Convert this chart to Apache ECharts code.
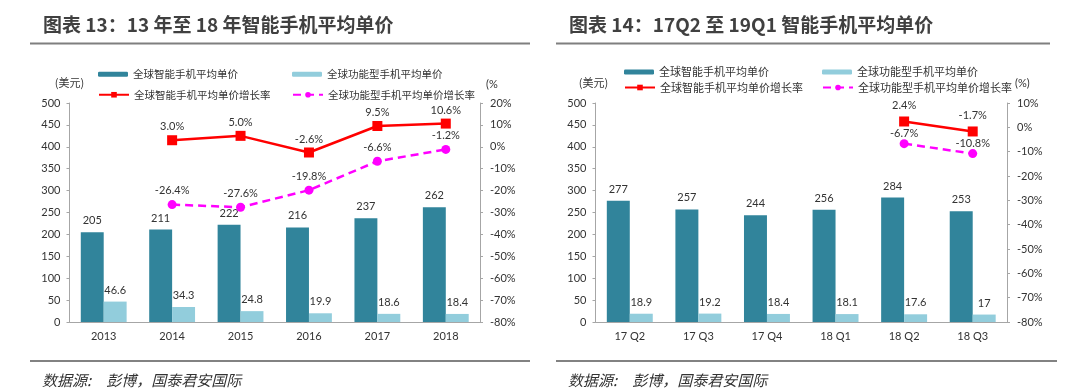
<!DOCTYPE html>
<html>
<head>
<meta charset="utf-8">
<script src="https://cdn.jsdelivr.net/npm/echarts@6/dist/echarts.min.js"></script>
<style>
html,body{margin:0;padding:0;background:#fff;}
#c{width:1081px;height:392px;}
</style>
</head>
<body>
<div id="c"></div>
<script>
// ---- data ----
const titleA = '图表 13：13 年至 18 年智能手机平均单价';
const titleB = '图表 14：17Q2 至 19Q1 智能手机平均单价';
const sourceText = '数据源:　彭博，国泰君安国际';
const seriesNames = ['全球智能手机平均单价', '全球功能型手机平均单价', '全球智能手机平均单价增长率', '全球功能型手机平均单价增长率'];

const yearCats = ['2013', '2014', '2015', '2016', '2017', '2018'];
const smartPriceA = [205, 211, 222, 216, 237, 262];
const featurePriceA = [46.6, 34.3, 24.8, 19.9, 18.6, 18.4];
const smartGrowthA = [null, 3.0, 5.0, -2.6, 9.5, 10.6];
const featureGrowthA = [null, -26.4, -27.6, -19.8, -6.6, -1.2];

const quarterCats = ['17 Q2', '17 Q3', '17 Q4', '18 Q1', '18 Q2', '18 Q3'];
const smartPriceB = [277, 257, 244, 256, 284, 253];
const featurePriceB = [18.9, 19.2, 18.4, 18.1, 17.6, 17];
const smartGrowthB = [null, null, null, null, 2.4, -1.7];
const featureGrowthB = [null, null, null, null, -6.7, -10.8];

// ---- styles ----
const FONT = "Lato, 'Noto Sans CJK SC', sans-serif";
const CJK = "'Noto Sans CJK SC', sans-serif";
const TXT = '#333333';
const AXIS = '#A6A6A6';
const DARK = '#31849B';
const LIGHT = '#92CDDC';
const RED = '#FF0000';
const MAG = '#FF00FF';

const chart = echarts.init(document.getElementById('c'), null, {renderer: 'canvas'});

function pct(p) { return (p.value === null || p.value === undefined) ? '' : Number(p.value).toFixed(1) + '%'; }

function valAxis(grid, pos, min, max, interval, isPct) {
  return {
    type: 'value', gridIndex: grid, position: pos, min: min, max: max, interval: interval,
    axisLine: {show: true, lineStyle: {color: AXIS, width: 1}},
    axisTick: {show: true, length: 3, inside: false, lineStyle: {color: AXIS}},
    splitLine: {show: false},
    axisLabel: {color: TXT, fontFamily: FONT, fontSize: 11, margin: pos === 'left' ? 9 : 10,
      formatter: isPct ? (v => v + '%') : (v => String(v))}
  };
}
function catAxis(grid, cats) {
  return {
    type: 'category', gridIndex: grid, data: cats, boundaryGap: true,
    axisLine: {show: true, lineStyle: {color: AXIS, width: 1}},
    axisTick: {show: false},
    axisLabel: {color: TXT, fontFamily: FONT, fontSize: 11, margin: 9}
  };
}
function barSeries(name, xi, yi, data, color) {
  return {
    name: name, type: 'bar', xAxisIndex: xi, yAxisIndex: yi, data: data,
    barGap: '0%', barCategoryGap: '33%',
    itemStyle: {color: color},
    label: {show: true, position: 'top', distance: 6, color: TXT, fontFamily: FONT, fontSize: 11},
    animation: false
  };
}
function lineSeries(name, xi, yi, data, color, dashed, symbol, size, dist) {
  return {
    name: name, type: 'line', xAxisIndex: xi, yAxisIndex: yi, data: data,
    symbol: symbol, symbolSize: size, showAllSymbol: true, connectNulls: false,
    lineStyle: {color: color, width: 2.5, type: dashed ? [8, 5] : 'solid'},
    itemStyle: {color: color},
    label: {show: true, position: 'top', distance: dist, color: TXT, fontFamily: FONT, fontSize: 11, formatter: pct},
    z: 5,
    animation: false
  };
}
function legendItem(name, left, top, isBar, fs) {
  return {
    data: [name], left: left, top: top, padding: 0, itemGap: 0,
    itemWidth: 30, itemHeight: isBar ? 5 : 7,
    selectedMode: false,
    textStyle: {color: TXT, fontFamily: CJK, fontSize: fs}
  };
}
function text(x, y, str, opts) {
  return {
    type: 'text', x: x, y: y, silent: true,
    style: Object.assign({text: str, fill: TXT, font: '11px ' + FONT, textVerticalAlign: 'middle', textAlign: 'left'}, opts || {})
  };
}
function hline(x1, x2, y, color, w) {
  return {type: 'line', silent: true, shape: {x1: x1, y1: y, x2: x2, y2: y}, style: {stroke: color, lineWidth: w}};
}

const option = {
  backgroundColor: '#ffffff',
  animation: false,
  grid: [
    {left: 69.5, top: 103, width: 410.5, height: 219, containLabel: false},
    {left: 595.5, top: 103, width: 411.5, height: 219, containLabel: false}
  ],
  xAxis: [catAxis(0, yearCats), catAxis(1, quarterCats)],
  yAxis: [
    valAxis(0, 'left', 0, 500, 50, false),
    valAxis(0, 'right', -80, 20, 10, true),
    valAxis(1, 'left', 0, 500, 50, false),
    valAxis(1, 'right', -80, 10, 10, true)
  ],
  legend: [
    legendItem(seriesNames[0], 98, 69, true, 10.5),
    legendItem(seriesNames[1], 292, 69, true, 10.5),
    legendItem(seriesNames[2], 98, 89.5, false, 10.5),
    legendItem(seriesNames[3], 292, 89.5, false, 10.5),
    legendItem(seriesNames[0], 624, 66.5, true, 11),
    legendItem(seriesNames[1], 822, 66.5, true, 11),
    legendItem(seriesNames[2], 624, 82, false, 11),
    legendItem(seriesNames[3], 822, 82, false, 11)
  ],
  series: [
    barSeries(seriesNames[0], 0, 0, smartPriceA, DARK),
    barSeries(seriesNames[1], 0, 0, featurePriceA, LIGHT),
    lineSeries(seriesNames[2], 0, 1, smartGrowthA, RED, false, 'rect', 10, 3),
    lineSeries(seriesNames[3], 0, 1, featureGrowthA, MAG, true, 'circle', 9, 4),
    barSeries(seriesNames[0], 1, 2, smartPriceB, DARK),
    barSeries(seriesNames[1], 1, 2, featurePriceB, LIGHT),
    lineSeries(seriesNames[2], 1, 3, smartGrowthB, RED, false, 'rect', 10, 6),
    lineSeries(seriesNames[3], 1, 3, featureGrowthB, MAG, true, 'circle', 9, 0)
  ],
  graphic: [
    text(43, 25, titleA, {font: 'bold 19px ' + CJK, fill: '#404040'}),
    text(569, 25, titleB, {font: 'bold 19px ' + CJK, fill: '#404040'}),
    hline(30, 530, 43.5, '#7F7F7F', 2),
    hline(556, 1050, 43.5, '#7F7F7F', 2),
    text(69.5, 83, '(美元)', {font: '11px ' + CJK, textAlign: 'center'}),
    text(486, 84, '(%', {font: '11px ' + FONT}),
    text(593.5, 83, '(美元)', {font: '11px ' + CJK, textAlign: 'center'}),
    text(1015, 83, '(%)', {font: '11px ' + FONT}),
    hline(30, 530, 361, '#595959', 1.5),
    hline(556, 1057, 361, '#595959', 1.5),
    text(42, 380, sourceText, {font: 'italic 15px ' + CJK}),
    text(568, 380, sourceText, {font: 'italic 15px ' + CJK})
  ]
};
chart.setOption(option);
</script>
</body>
</html>
